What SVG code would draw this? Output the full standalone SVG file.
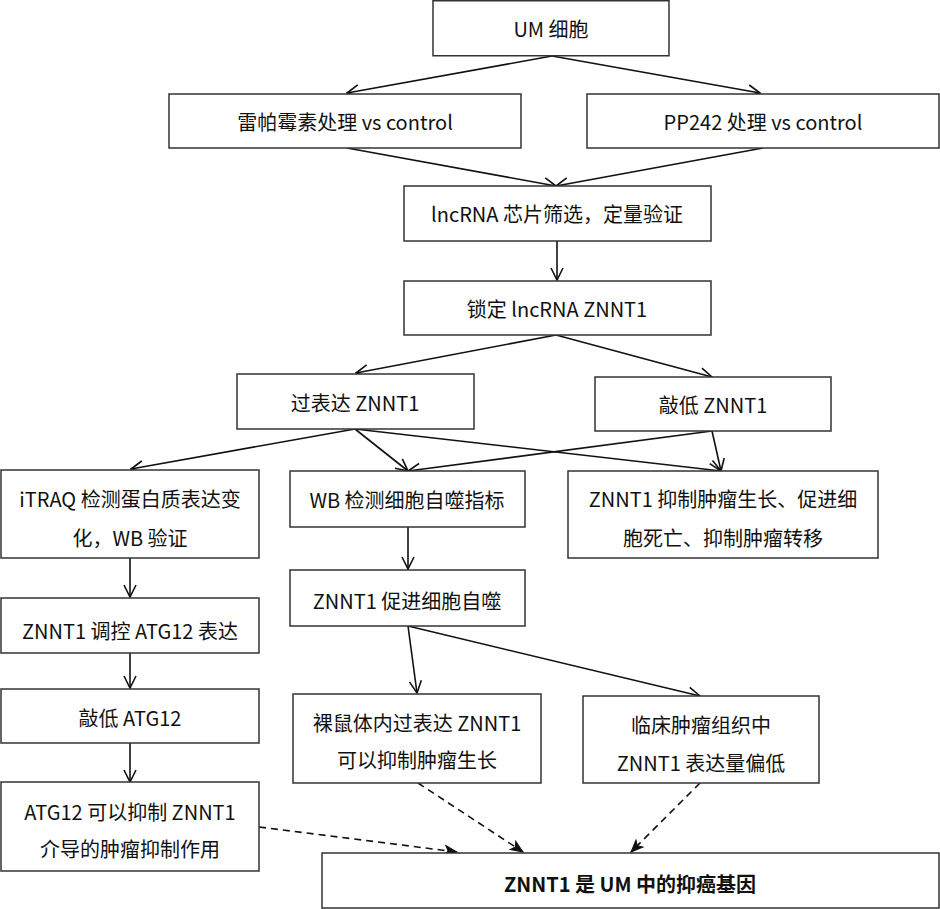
<svg xmlns="http://www.w3.org/2000/svg" width="940" height="909" viewBox="0 0 940 909">
<style>
.box{fill:#fff;stroke:#333;stroke-width:1.5}
text{font-family:"Noto Sans CJK SC","Noto Sans",sans-serif;font-size:20px;fill:#111;text-anchor:middle;dominant-baseline:central}
.b{font-weight:bold}
.c{fill:none;stroke:#111;stroke-width:1.6}
.d{fill:none;stroke:#111;stroke-width:1.6;stroke-dasharray:7,5}
</style>
<defs>
<marker id="a" viewBox="0 0 14 14" refX="13" refY="7" markerWidth="14" markerHeight="14" markerUnits="userSpaceOnUse" orient="auto">
<path d="M1,1 L13,7 L1,13" fill="none" stroke="#111" stroke-width="1.6"/>
</marker>
<marker id="f" viewBox="0 0 14 14" refX="13" refY="7" markerWidth="14" markerHeight="14" markerUnits="userSpaceOnUse" orient="auto">
<path d="M1,2 L13,7 L1,12 L4,7 Z" fill="#111" stroke="#111" stroke-width="1"/>
</marker>
</defs>
<rect width="940" height="909" fill="#fff"/>
<g id="connectors">
<line class="c" x1="552" y1="56" x2="347" y2="93" marker-end="url(#a)"/>
<line class="c" x1="552" y1="56" x2="760" y2="93" marker-end="url(#a)"/>
<line class="c" x1="347" y1="148" x2="556" y2="186" marker-end="url(#a)"/>
<line class="c" x1="763" y1="148" x2="556" y2="186" marker-end="url(#a)"/>
<line class="c" x1="557" y1="241" x2="557" y2="280" marker-end="url(#a)"/>
<line class="c" x1="556" y1="335" x2="356" y2="373" marker-end="url(#a)"/>
<line class="c" x1="556" y1="335" x2="712" y2="377" marker-end="url(#a)"/>
<line class="c" x1="355" y1="429" x2="131" y2="469" marker-end="url(#a)"/>
<line class="c" x1="355" y1="429" x2="408" y2="471" marker-end="url(#a)"/>
<line class="c" x1="355" y1="429" x2="721" y2="471" marker-end="url(#a)"/>
<line class="c" x1="712" y1="431" x2="408" y2="471" marker-end="url(#a)"/>
<line class="c" x1="712" y1="431" x2="721" y2="471" marker-end="url(#a)"/>
<line class="c" x1="408" y1="527" x2="408" y2="569" marker-end="url(#a)"/>
<line class="c" x1="130" y1="558" x2="130" y2="597" marker-end="url(#a)"/>
<line class="c" x1="130" y1="653" x2="130" y2="688" marker-end="url(#a)"/>
<line class="c" x1="130" y1="743" x2="130" y2="782" marker-end="url(#a)"/>
<line class="c" x1="408" y1="626" x2="417" y2="693" marker-end="url(#a)"/>
<line class="c" x1="408" y1="626" x2="700" y2="696" marker-end="url(#a)"/>
<line class="d" x1="259" y1="827" x2="457" y2="852" marker-end="url(#f)"/>
<line class="d" x1="418" y1="783" x2="523" y2="852" marker-end="url(#f)"/>
<line class="d" x1="700" y1="783" x2="631" y2="852" marker-end="url(#f)"/>
</g>
<g id="n1"><rect class="box" x="433" y="0.75" width="236" height="55"/><text x="551" y="28">UM 细胞</text></g>
<g id="n2"><rect class="box" x="169" y="94" width="352" height="54"/><text x="345" y="121">雷帕霉素处理 vs control</text></g>
<g id="n3"><rect class="box" x="587" y="94" width="352" height="54"/><text x="763" y="121">PP242 处理 vs control</text></g>
<g id="n4"><rect class="box" x="404" y="186" width="307" height="55"/><text x="557" y="213">lncRNA 芯片筛选，定量验证</text></g>
<g id="n5"><rect class="box" x="404" y="281" width="307" height="54"/><text x="557" y="308">锁定 lncRNA ZNNT1</text></g>
<g id="n6"><rect class="box" x="237" y="374" width="237" height="55"/><text x="355" y="402">过表达 ZNNT1</text></g>
<g id="n7"><rect class="box" x="595" y="377" width="236" height="54"/><text x="713" y="404">敲低 ZNNT1</text></g>
<g id="n8"><rect class="box" x="1" y="470" width="258" height="88"/><text x="130" y="498">iTRAQ 检测蛋白质表达变</text><text x="130" y="537">化，WB 验证</text></g>
<g id="n9"><rect class="box" x="290" y="471" width="235" height="56"/><text x="407" y="499">WB 检测细胞自噬指标</text></g>
<g id="n10"><rect class="box" x="568" y="471" width="310" height="87"/><text x="723" y="498">ZNNT1 抑制肿瘤生长、促进细</text><text x="723" y="537">胞死亡、抑制肿瘤转移</text></g>
<g id="n11"><rect class="box" x="290" y="570" width="235" height="56"/><text x="407" y="600">ZNNT1 促进细胞自噬</text></g>
<g id="n12"><rect class="box" x="1" y="598" width="258" height="55"/><text x="130" y="630">ZNNT1 调控 ATG12 表达</text></g>
<g id="n13"><rect class="box" x="1" y="689" width="258" height="54"/><text x="130" y="717">敲低 ATG12</text></g>
<g id="n14"><rect class="box" x="1" y="782" width="258" height="89"/><text x="130" y="811">ATG12 可以抑制 ZNNT1</text><text x="130" y="848">介导的肿瘤抑制作用</text></g>
<g id="n15"><rect class="box" x="293" y="694" width="248" height="89"/><text x="417" y="722">裸鼠体内过表达 ZNNT1</text><text x="417" y="759">可以抑制肿瘤生长</text></g>
<g id="n16"><rect class="box" x="583" y="696" width="236" height="87"/><text x="701" y="724">临床肿瘤组织中</text><text x="701" y="762">ZNNT1 表达量偏低</text></g>
<g id="n17"><rect class="box" x="322" y="853" width="617" height="55"/><text class="b" x="630" y="883">ZNNT1 是 UM 中的抑癌基因</text></g>
</svg>
